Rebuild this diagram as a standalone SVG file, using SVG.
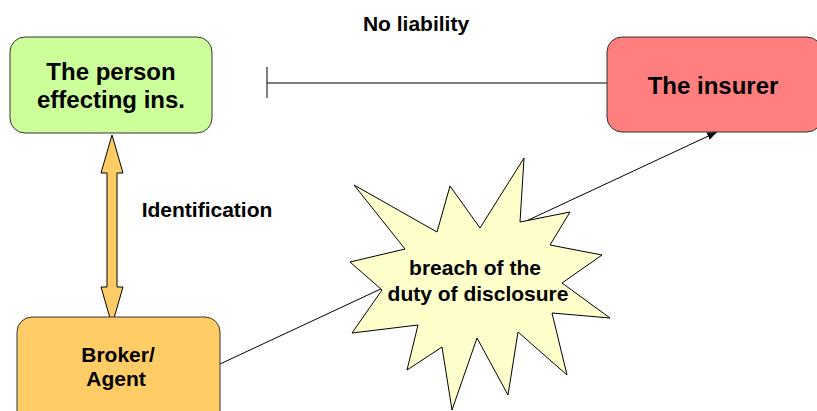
<svg xmlns="http://www.w3.org/2000/svg" width="817" height="411" viewBox="0 0 817 411">
<style>
  .box { stroke: #333; stroke-width: 1; }
  .t { font-family: "Liberation Sans", Arial, sans-serif; font-weight: bold; fill: #000; text-anchor: middle; }
  .big { font-size: 24px; }
  .small { font-size: 21px; }
  .conn { stroke: #000; stroke-width: 1; fill: none; }
</style>
<defs>
  <marker id="arr" viewBox="0 0 10 10" refX="10" refY="5" markerWidth="10" markerHeight="10" markerUnits="userSpaceOnUse" orient="auto">
    <path d="M0,1 L10,5 L0,9 Z" fill="#000"/>
  </marker>
</defs>
<g id="connectors">
  <line class="conn" x1="220" y1="364" x2="717" y2="132" marker-end="url(#arr)"/>
  <line class="conn" x1="267" y1="83" x2="607" y2="83"/>
  <line class="conn" x1="267" y1="67" x2="267" y2="98"/>
  <polygon id="identification-arrow" points="112,135 123,173 117,173 117,287 123,287 112,325 101,287 107,287 107,173 101,173" fill="#FFCC66" stroke="#000" stroke-width="1"/>
</g>
<g id="person">
  <rect class="box" x="10" y="37" width="202" height="96" rx="15" fill="#CCFF99"/>
  <text class="t big" x="111" y="80">The person</text>
  <text class="t big" x="111" y="108">effecting ins.</text>
</g>
<g id="insurer">
  <rect class="box" x="607" y="37" width="215" height="95" rx="15" fill="#FF7F7F"/>
  <text class="t big" x="713" y="94">The insurer</text>
</g>
<g id="broker">
  <rect class="box" x="17" y="317" width="203" height="110" rx="15" fill="#FFCC66"/>
  <text class="t small" x="118" y="362">Broker/</text>
  <text class="t small" x="116" y="386">Agent</text>
</g>
<g id="breach">
  <polygon points="524,158 520,222 570,212 550,245 602,255 562,283 610,318 552,313 567,375 518,332 508,395 477,338 452,410 442,347 407,370 418,325 352,333 382,290 350,262 405,249 354,185 437,232 450,186 480,228" fill="#FFFFCC" stroke="#000" stroke-width="1"/>
  <text class="t small" x="475" y="275">breach of the</text>
  <text class="t small" x="478" y="301">duty of disclosure</text>
</g>
<g id="labels">
  <text class="t small" x="416" y="31">No liability</text>
  <text class="t small" x="207" y="217">Identification</text>
</g>
</svg>
